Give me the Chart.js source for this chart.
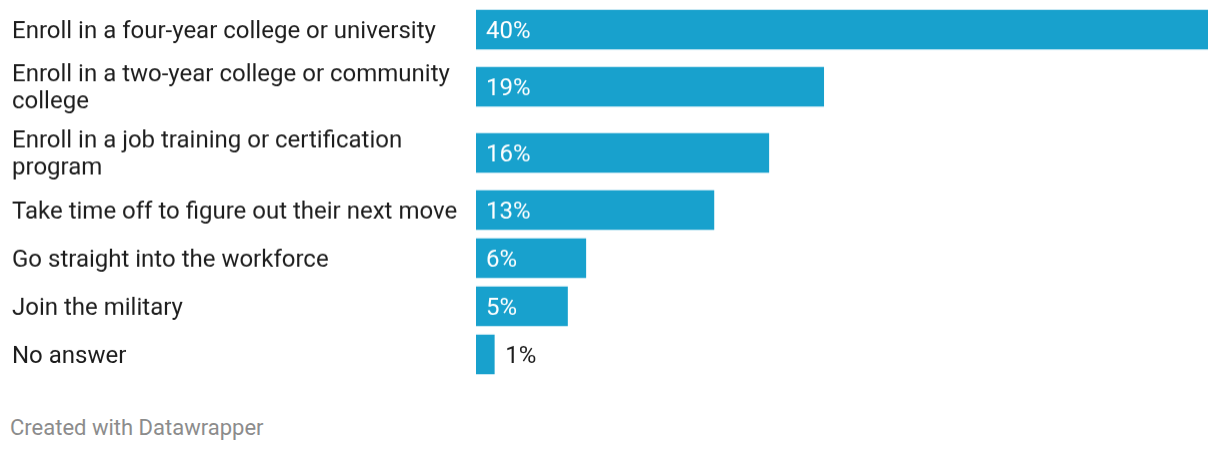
<!DOCTYPE html>
<html>
<head>
<meta charset="utf-8">
<script src="https://cdn.jsdelivr.net/npm/chart.js@4/dist/chart.umd.min.js"></script>
<style>
  html,body{margin:0;padding:0;background:#fff;}
  #wrap{position:relative;width:1220px;height:383.5px;}
  #foot{position:absolute;left:10px;top:415px;font-family:Roboto,sans-serif;font-size:22px;color:#8c8c8c;}
</style>
</head>
<body>
<div id="wrap"><canvas id="chart"></canvas></div>
<div id="foot">Created with Datawrapper</div>
<script>
// ── data ──
const categories = [
  'Enroll in a four-year college or university',
  'Enroll in a two-year college or community college',
  'Enroll in a job training or certification program',
  'Take time off to figure out their next move',
  'Go straight into the workforce',
  'Join the military',
  'No answer',
];
const values = [40, 19, 16, 13, 6, 5, 1];
const valueLabels = ['40%', '19%', '16%', '13%', '6%', '5%', '1%'];

const LABEL_FONT = '24px Roboto';
const LABEL_W = 452;

function build(){
  // wrap labels like datawrapper does
  const mctx = document.createElement('canvas').getContext('2d');
  mctx.font = LABEL_FONT;
  const wrap = s=>{
    const out = []; let line = '';
    s.split(' ').forEach(w=>{
      const t = line ? line+' '+w : w;
      if(mctx.measureText(t).width > LABEL_W && line){ out.push(line); line = w; }
      else line = t;
    });
    out.push(line);
    return out;
  };
  const lines = categories.map(wrap);

  // row slots: one-line rows 48, each extra line adds 18
  let acc = 0;
  const rowPos = lines.map(l=>{
    const h = 48 + 18*(l.length-1);
    const c = acc + h/2; acc += h;
    return c;
  });
  const total = acc;

  const valuePlugin = {
    id:'values',
    afterDatasetsDraw(chart){
      const ctx = chart.ctx;
      const meta = chart.getDatasetMeta(0);
      ctx.save();
      ctx.font = '24px Roboto';
      ctx.textBaseline = 'middle';
      ctx.textAlign = 'left';
      meta.data.forEach((bar,i)=>{
        const w = bar.x - bar.base;
        if(w > 60){ ctx.fillStyle = '#ffffff'; ctx.fillText(valueLabels[i], bar.base+10, bar.y+2); }
        else { ctx.fillStyle = '#1d1d1d'; ctx.fillText(valueLabels[i], bar.x+11, bar.y+2); }
      });
      ctx.restore();
    }
  };

  new Chart(document.getElementById('chart').getContext('2d'),{
    type:'bar',
    data:{datasets:[{
      data: values.map((v,i)=>({x:v, y:rowPos[i]})),
      backgroundColor:'#18a1cd',
      barThickness:39,
      borderWidth:0,
    }]},
    options:{
      indexAxis:'y',
      responsive:true,maintainAspectRatio:false,animation:false,
      layout:{padding:{left:12,right:12,top:5.5,bottom:6}},
      plugins:{legend:{display:false},tooltip:{enabled:false}},
      scales:{
        x:{type:'linear',display:false,min:0,max:40},
        y:{
          type:'linear',reverse:true,min:0,max:total,offset:false,
          grid:{display:false},border:{display:false},
          afterBuildTicks:ax=>{ ax.ticks = rowPos.map(v=>({value:v})); },
          afterFit:ax=>{ ax.width = 464; ax.paddingTop = 0; ax.paddingBottom = 0; },
          ticks:{
            crossAlign:'far',padding:0,autoSkip:false,labelOffset:2,
            color:'#1d1d1d',font:{family:'Roboto',size:24,lineHeight:'27px'},
            callback:(v)=>{ const i = rowPos.indexOf(v); return i<0 ? '' : lines[i]; },
          },
        },
      },
    },
    plugins:[valuePlugin],
  });
}

if(document.fonts && document.fonts.load) document.fonts.load(LABEL_FONT).then(build, build);
else build();
</script>
</body>
</html>
